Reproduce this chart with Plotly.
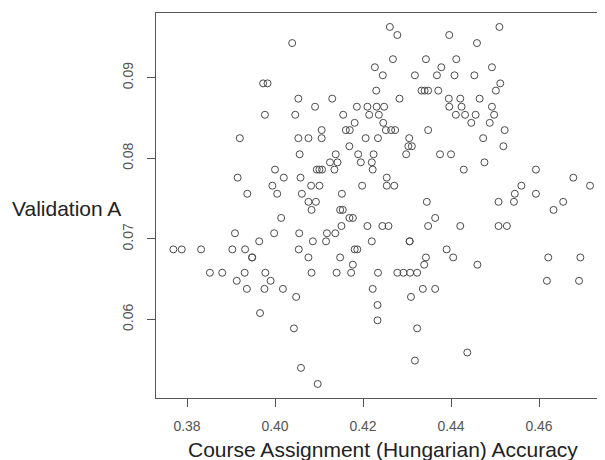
import plotly.graph_objects as go

# Course assignment (Hungarian) accuracy  vs  validation accuracy
hungarian_acc = [
    0.4261, 0.4510,
    0.4278, 0.4396,
    0.4039, 0.4459,
    0.4268, 0.4343, 0.4412,
    0.4227, 0.4378, 0.4493,
    0.4245, 0.4318, 0.4368, 0.4408, 0.4453,
    0.3973, 0.3983, 0.4512,
    0.4230, 0.4333, 0.4340, 0.4348, 0.4371, 0.4502,
    0.4053, 0.4130, 0.4283, 0.4395, 0.4421, 0.4465,
    0.4091, 0.4186, 0.4210, 0.4231, 0.4248, 0.4396, 0.4424, 0.4493,
    0.3977, 0.4046, 0.4155, 0.4214, 0.4236, 0.4411, 0.4432, 0.4456, 0.4498,
    0.4181, 0.4246, 0.4446, 0.4488,
    0.4106, 0.4161, 0.4170, 0.4252, 0.4264, 0.4273, 0.4348, 0.4522,
    0.3920, 0.4053, 0.4076, 0.4106, 0.4206, 0.4234, 0.4305, 0.4473,
    0.4169, 0.4303, 0.4311, 0.4519,
    0.4056, 0.4138, 0.4189, 0.4224, 0.4298, 0.4375, 0.4400,
    0.4125, 0.4142, 0.4195, 0.4220, 0.4476,
    0.4000, 0.4095, 0.4101, 0.4107, 0.4135, 0.4222, 0.4429, 0.4593,
    0.3915, 0.4020, 0.4058, 0.4254, 0.4678,
    0.3994, 0.4082, 0.4101, 0.4198, 0.4254, 0.4271, 0.4560, 0.4716,
    0.3937, 0.4005, 0.4061, 0.4152, 0.4545, 0.4593,
    0.4076, 0.4093, 0.4345, 0.4508, 0.4543, 0.4655,
    0.4083, 0.4148, 0.4154, 0.4633,
    0.4014, 0.4169, 0.4177, 0.4364,
    0.4151, 0.4210, 0.4244, 0.4258, 0.4348, 0.4421, 0.4508, 0.4527,
    0.3909, 0.3998, 0.4055, 0.4118, 0.4137,
    0.3964, 0.4086, 0.4116, 0.4220, 0.4306, 0.4306,
    0.3769, 0.3788, 0.3832, 0.3903, 0.3932, 0.4054, 0.4181, 0.4187, 0.4390,
    0.3948, 0.3948, 0.4076, 0.4148, 0.4343, 0.4405, 0.4621, 0.4694,
    0.4177, 0.4339, 0.4460,
    0.3852, 0.3880, 0.3931, 0.3978, 0.4083, 0.4140, 0.4173, 0.4234, 0.4278, 0.4292, 0.4307, 0.4323,
    0.3913, 0.3990, 0.4618, 0.4691,
    0.3936, 0.3976, 0.4018, 0.4222, 0.4336, 0.4364,
    0.4048, 0.4309,
    0.4233,
    0.3966,
    0.4233,
    0.4043, 0.4323,
    0.4437,
    0.4318,
    0.4059,
    0.4097,
]

validation_acc = (
    [0.0963] * 2 + [0.0953] * 2 + [0.0943] * 2 + [0.0923] * 3 + [0.0913] * 3
    + [0.0903] * 5 + [0.0893] * 3 + [0.0884] * 6 + [0.0874] * 6 + [0.0864] * 8
    + [0.0854] * 9 + [0.0844] * 4 + [0.0835] * 8 + [0.0825] * 8 + [0.0815] * 4
    + [0.0805] * 7 + [0.0795] * 5 + [0.0786] * 8 + [0.0776] * 5 + [0.0766] * 8
    + [0.0756] * 6 + [0.0746] * 6 + [0.0736] * 4 + [0.0726] * 4 + [0.0716] * 8
    + [0.0707] * 5 + [0.0697] * 6 + [0.0687] * 9 + [0.0677] * 8 + [0.0668] * 3
    + [0.0658] * 12 + [0.0648] * 4 + [0.0638] * 6 + [0.0628] * 2 + [0.0618] * 1
    + [0.0608] * 1 + [0.0599] * 1 + [0.0589] * 2 + [0.0559] * 1 + [0.0549] * 1
    + [0.0540] * 1 + [0.0520] * 1
)

x_ticks = [0.38, 0.40, 0.42, 0.44, 0.46]
x_tick_text = ["0.38", "0.40", "0.42", "0.44", "0.46"]
y_ticks = [0.06, 0.07, 0.08, 0.09]
y_tick_text = ["0.06", "0.07", "0.08", "0.09"]

FONT = "Liberation Sans, Arial, sans-serif"
AXIS_COL = "#555555"

fig = go.Figure(
    go.Scatter(
        x=hungarian_acc,
        y=validation_acc,
        mode="markers",
        marker=dict(symbol="circle-open", size=7, color="#4a4a4a",
                    line=dict(width=1, color="#4a4a4a")),
        hoverinfo="x+y",
    )
)

# the page body has an 8px default margin, so the figure is 8px smaller each way
fig.update_layout(
    width=597,
    height=452,
    margin=dict(l=148, r=0, t=5, b=62),
    paper_bgcolor="white",
    plot_bgcolor="white",
    showlegend=False,
    font=dict(family=FONT, color="#222222"),
    xaxis=dict(
        range=[0.37295, 0.475],
        tickvals=x_ticks,
        ticktext=x_tick_text,
        ticks="outside",
        ticklen=8,
        tickwidth=1,
        tickcolor=AXIS_COL,
        showline=True,
        linecolor=AXIS_COL,
        linewidth=1,
        mirror=True,
        showgrid=False,
        zeroline=False,
        tickfont=dict(size=14, color="#555555", family=FONT),
        ticklabelstandoff=7,
    ),
    yaxis=dict(
        range=[0.05026, 0.09803],
        tickvals=y_ticks,
        ticktext=y_tick_text,
        ticks="outside",
        ticklen=8,
        tickwidth=1,
        tickcolor=AXIS_COL,
        showline=True,
        linecolor=AXIS_COL,
        linewidth=1,
        mirror=False,
        showgrid=False,
        zeroline=False,
        tickangle=-90,
        tickfont=dict(size=14, color="#555555", family=FONT),
        ticklabelstandoff=8,
    ),
    annotations=[
        dict(text="Course Assignment (Hungarian) Accuracy", xref="paper", yref="paper",
             x=0.5045, y=-0.135, xanchor="center", yanchor="middle", showarrow=False,
             font=dict(size=21, color="#222222", family=FONT)),
        dict(text="Validation A", xref="paper", yref="paper",
             x=-0.3252, y=0.491, xanchor="left", yanchor="middle", showarrow=False,
             font=dict(size=21, color="#222222", family=FONT)),
    ],
)

fig.write_html("out.html")
